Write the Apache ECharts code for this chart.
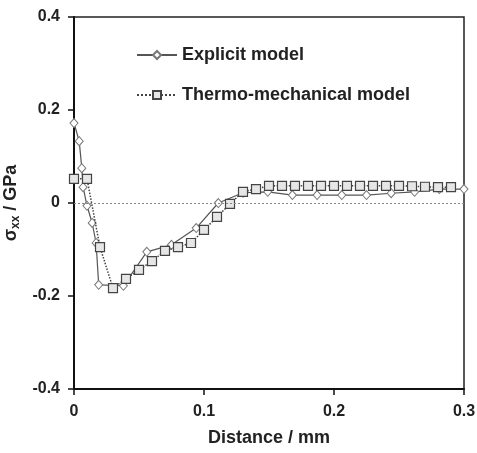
<!DOCTYPE html>
<html><head><meta charset="utf-8">
<script src="https://cdn.jsdelivr.net/npm/echarts@6/dist/echarts.min.js"></script>
<style>html,body{margin:0;padding:0;background:#fff}#c{width:477px;height:453px}</style>
</head><body><div id="c"></div>
<script>
var explicitX = [0, 0.004, 0.006, 0.007, 0.010, 0.014, 0.017, 0.019, 0.038, 0.056, 0.075, 0.094, 0.111, 0.130, 0.149, 0.168, 0.187, 0.206, 0.225, 0.244, 0.262, 0.281, 0.300];
var explicitY = [0.172, 0.133, 0.075, 0.034, -0.006, -0.043, -0.086, -0.176, -0.178, -0.105, -0.090, -0.054, 0.000, 0.022, 0.024, 0.017, 0.017, 0.017, 0.017, 0.021, 0.024, 0.030, 0.030];
var thermoX = [0, 0.01, 0.02, 0.03, 0.04, 0.05, 0.06, 0.07, 0.08, 0.09, 0.10, 0.11, 0.12, 0.13, 0.14, 0.15, 0.16, 0.17, 0.18, 0.19, 0.20, 0.21, 0.22, 0.23, 0.24, 0.25, 0.26, 0.27, 0.28, 0.29];
var thermoY = [0.052, 0.052, -0.095, -0.183, -0.163, -0.144, -0.125, -0.103, -0.095, -0.086, -0.058, -0.030, -0.002, 0.024, 0.030, 0.037, 0.037, 0.037, 0.037, 0.037, 0.037, 0.037, 0.037, 0.037, 0.037, 0.037, 0.036, 0.035, 0.034, 0.034];
var seriesNames = ['Explicit model', 'Thermo-mechanical model'];
var xTicks = {min: 0, max: 0.3, interval: 0.1};
var yTicks = {min: -0.4, max: 0.4, interval: 0.2};

function pairs(xs, ys) { return xs.map(function (x, i) { return [x, ys[i]]; }); }

var font = 'Liberation Sans, Arial, sans-serif';
var chart = echarts.init(document.getElementById('c'));
chart.setOption({
  animation: false,
  grid: {left: 74, right: 13, top: 17, bottom: 64, containLabel: false, outerBoundsMode: 'none',
    show: true, borderColor: '#222', borderWidth: 1.5, backgroundColor: 'transparent'},
  legend: {
    orient: 'vertical', left: 131, top: 41, itemGap: 22, itemWidth: 40, itemHeight: 10,
    data: seriesNames,
    textStyle: {fontFamily: font, fontWeight: 'bold', fontSize: 18, color: '#222'}
  },
  xAxis: {
    type: 'value', min: xTicks.min, max: xTicks.max, interval: xTicks.interval,
    name: 'Distance / mm', nameLocation: 'middle', nameGap: 40,
    nameTextStyle: {fontFamily: font, fontWeight: 'bold', fontSize: 18, color: '#222'},
    axisLine: {onZero: false, lineStyle: {color: '#111', width: 2}},
    axisTick: {show: true, inside: false, length: 6, lineStyle: {color: '#111', width: 1.5}},
    axisLabel: {fontFamily: font, fontWeight: 'bold', fontSize: 16, color: '#222', margin: 15,
      formatter: function (v) { return v === 0 ? '0' : v.toFixed(1); }},
    splitLine: {show: false}
  },
  yAxis: {
    type: 'value', min: yTicks.min, max: yTicks.max, interval: yTicks.interval,
    name: '{a|σ}{b|xx}{a| / GPa}', nameLocation: 'middle', nameGap: 45, nameRotate: 90,
    nameTextStyle: {
      rich: {
        a: {fontFamily: font, fontWeight: 'bold', fontSize: 18, color: '#222', lineHeight: 20},
        b: {fontFamily: font, fontWeight: 'bold', fontSize: 12, color: '#222', lineHeight: 12, verticalAlign: 'bottom'}
      }
    },
    axisLine: {onZero: false, lineStyle: {color: '#111', width: 2}},
    axisTick: {show: true, inside: false, length: 6, lineStyle: {color: '#111', width: 1.5}},
    axisLabel: {fontFamily: font, fontWeight: 'bold', fontSize: 16, color: '#222', margin: 14,
      formatter: function (v) { return v === 0 ? '0' : v.toFixed(1); }},
    splitLine: {show: false}
  },
  series: [
    {
      name: seriesNames[0], type: 'line', data: pairs(explicitX, explicitY),
      symbol: 'diamond', symbolSize: [8, 9], showAllSymbol: true,
      lineStyle: {color: '#555', width: 1.2, type: 'solid'},
      itemStyle: {color: '#fff', borderColor: '#777', borderWidth: 1},
      z: 3,
      markLine: {
        silent: true, symbol: 'none', label: {show: false},
        lineStyle: {color: '#888', width: 1, type: [2, 2]},
        data: [{yAxis: 0}]
      }
    },
    {
      name: seriesNames[1], type: 'line', data: pairs(thermoX, thermoY),
      symbol: 'rect', symbolSize: 9, showAllSymbol: true,
      lineStyle: {color: '#444', width: 1.5, type: 'dotted'},
      itemStyle: {color: '#e6e6e6', borderColor: '#444', borderWidth: 1.2},
      z: 4
    }
  ]
});
</script></body></html>
